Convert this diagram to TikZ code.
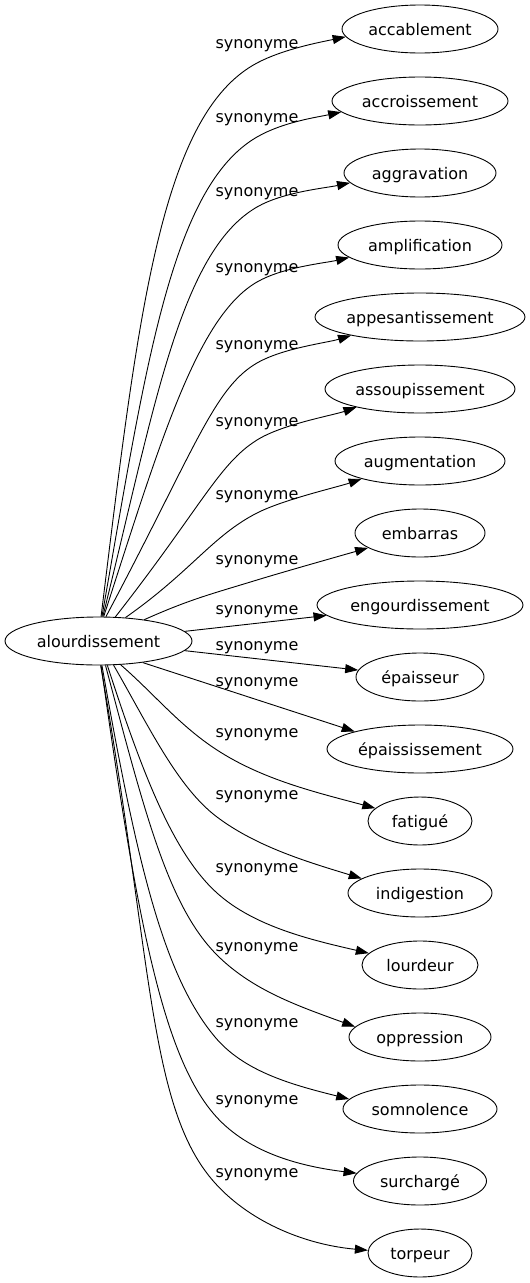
\documentclass[tikz,border=0pt]{standalone}
\usepackage{fontspec}
\setmainfont{DejaVu Sans}
\usetikzlibrary{shapes.geometric,arrows.meta}
\begin{document}
\begin{tikzpicture}[x=1pt,y=1pt,
  word/.style={draw, ellipse, line width=0.9pt, minimum height=48pt, inner xsep=-30pt, inner ysep=0pt,
    text height=12pt, text depth=0pt, font=\fontsize{16pt}{19pt}\selectfont},
  lab/.style={anchor=base, inner sep=0pt, font=\fontsize{16pt}{19pt}\selectfont},
  edge/.style={line width=0.9pt, -{Triangle[length=13pt,width=9pt]}}]
\useasboundingbox (0,0) rectangle (530,-1283);
% centre
\node[word, minimum width=187pt] (c) at (98.5,-641) {alourdissement};
% targets
\node[word, minimum width=156pt] (n1) at (420,-29) {accablement};
\node[word, minimum width=176pt] (n2) at (420,-101) {accroissement};
\node[word, minimum width=152pt] (n3) at (420,-173) {aggravation};
\node[word, minimum width=164pt] (n4) at (420,-245) {amplification};
\node[word, minimum width=210pt] (n5) at (420,-317) {appesantissement};
\node[word, minimum width=190pt] (n6) at (420,-389) {assoupissement};
\node[word, minimum width=170pt] (n7) at (420,-461) {augmentation};
\node[word, minimum width=130pt] (n8) at (420,-533) {embarras};
\node[word, minimum width=206pt] (n9) at (420,-605) {engourdissement};
\node[word, minimum width=128pt] (n10) at (420,-677) {épaisseur};
\node[word, minimum width=186pt] (n11) at (420,-749) {épaississement};
\node[word, minimum width=104pt] (n12) at (420,-821) {fatigué};
\node[word, minimum width=144pt] (n13) at (420,-893) {indigestion};
\node[word, minimum width=116pt] (n14) at (420,-965) {lourdeur};
\node[word, minimum width=142pt] (n15) at (420,-1037) {oppression};
\node[word, minimum width=154pt] (n16) at (420,-1109) {somnolence};
\node[word, minimum width=133pt] (n17) at (420,-1181) {surchargé};
\node[word, minimum width=104pt] (n18) at (420,-1253) {torpeur};
% labels
\foreach \i/\y in {1/44,2/118,3/192,4/268,5/345,6/422,7/495,8/560,9/610,10/646,11/682,12/733,13/795,14/868,15/947,16/1023,17/1100,18/1173}
  \node[lab] (l\i) at (257,-\y-4.5) {synonyme};
% bend points
\coordinate (m1) at (257,-63);
\coordinate (m2) at (257,-137);
\coordinate (m3) at (257,-207);
\coordinate (m4) at (257,-282);
\coordinate (m5) at (257,-363);
\coordinate (m6) at (257,-440);
\coordinate (m7) at (257,-513);
\coordinate (m8) at (257,-580);
\coordinate (m12) at (217,-750);
\coordinate (m13) at (217,-817);
\coordinate (m14) at (217,-893);
\coordinate (m15) at (217,-955);
\coordinate (m16) at (215,-1037);
\coordinate (m17) at (213,-1113);
\coordinate (m18) at (215,-1183);
% edges
\draw[edge] (c.84) to[out=83,in=208,out distance=300pt,in distance=110pt] (m1) to[out=28,in=192,out distance=30pt,in distance=25pt] (n1.186);
\draw[edge] (c.82) to[out=80,in=210,out distance=250pt,in distance=100pt] (m2) to[out=30,in=192,out distance=30pt,in distance=25pt] (n2.188);
\draw[edge] (c.80) to[out=76,in=210,out distance=210pt,in distance=90pt] (m3) to[out=30,in=192,out distance=30pt,in distance=25pt] (n3.188);
\draw[edge] (c.78) to[out=72,in=210,out distance=180pt,in distance=70pt] (m4) to[out=30,in=193,out distance=30pt,in distance=25pt] (n4.190);
\draw[edge] (c.73) to[out=62,in=210,out distance=190pt,in distance=50pt] (m5) to[out=30,in=197,out distance=30pt,in distance=25pt] (n5.195);
\draw[edge] (c.55) to[out=52,in=212,out distance=140pt,in distance=45pt] (m6) to[out=32,in=199,out distance=30pt,in distance=25pt] (n6.196);
\draw[edge] (c.41) to[out=35,in=207,out distance=80pt,in distance=50pt] (m7) to[out=27,in=199,out distance=30pt,in distance=25pt] (n7.197);
\draw[edge] (c.25) to[out=24,in=197,out distance=50pt,in distance=50pt] (m8) to[out=17,in=196,out distance=30pt,in distance=25pt] (n8.196);
\draw[edge] (c) -- (n9);
\draw[edge] (c) -- (n10);
\draw[edge] (c.334) -- (n11.165);
\draw[edge] (c.313) to[out=-41,in=147,out distance=45pt,in distance=45pt] (m12) to[out=-33,in=165,out distance=55pt,in distance=60pt] (n12.164);
\draw[edge] (c.302) to[out=-60,in=143,out distance=70pt,in distance=50pt] (m13) to[out=-37,in=163,out distance=50pt,in distance=55pt] (n13.166);
\draw[edge] (c.290) to[out=-72,in=138,out distance=110pt,in distance=60pt] (m14) to[out=-42,in=167,out distance=50pt,in distance=60pt] (n14.167);
\draw[edge] (c.286) to[out=-75,in=135,out distance=150pt,in distance=70pt] (m15) to[out=-45,in=160,out distance=50pt,in distance=60pt] (n15.171);
\draw[edge] (c.278) to[out=-80,in=130,out distance=200pt,in distance=80pt] (m16) to[out=-50,in=166,out distance=45pt,in distance=60pt] (n16.172);
\draw[edge] (c.276) to[out=-82,in=130,out distance=250pt,in distance=80pt] (m17) to[out=-50,in=173,out distance=50pt,in distance=60pt] (n17.173);
\draw[edge] (c.275) to[out=-80,in=132,out distance=300pt,in distance=100pt] (m18) to[out=-48,in=175,out distance=55pt,in distance=60pt] (n18.177);
\end{tikzpicture}
\end{document}
